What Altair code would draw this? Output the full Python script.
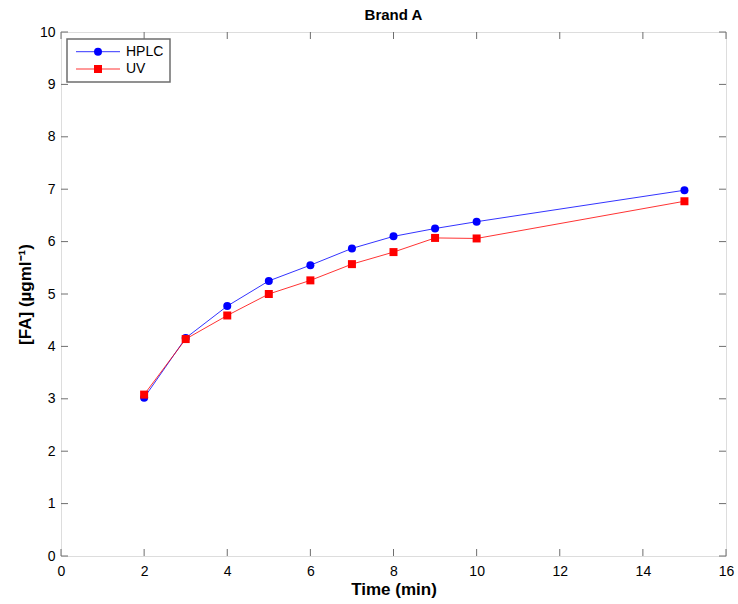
import altair as alt
import pandas as pd

# ---- data ----
time = [2, 3, 4, 5, 6, 7, 8, 9, 10, 15]
hplc = [3.02, 4.16, 4.77, 5.25, 5.55, 5.87, 6.10, 6.25, 6.38, 6.98]
uv = [3.08, 4.14, 4.59, 5.00, 5.26, 5.57, 5.80, 6.07, 6.06, 6.77]
series_names = ["HPLC", "UV"]
series_colors = ["#0000ff", "#ff0000"]
series_shapes = ["circle", "square"]
x_ticks = [0, 2, 4, 6, 8, 10, 12, 14, 16]
y_ticks = [0, 1, 2, 3, 4, 5, 6, 7, 8, 9, 10]

W, H = 665, 524
FONT = "Liberation Sans"
FRAME = "#6e6e6e"
TL = 7  # inner tick length

df = pd.DataFrame({
    "x": time + time,
    "y": hplc + uv,
    "series": [series_names[0]] * len(time) + [series_names[1]] * len(time),
})

xs = alt.Scale(domain=[0, 16], nice=False, zero=False)
ys = alt.Scale(domain=[0, 10], nice=False, zero=False)

xaxis = alt.Axis(title="Time (min)", values=x_ticks, ticks=False, domain=False, grid=False,
                 labelFont=FONT, labelFontSize=14, labelColor="black", labelPadding=8,
                 labelFlush=False, format="d",
                 titleFont=FONT, titleFontSize=17, titleFontWeight="bold", titleColor="black",
                 titlePadding=3)
yaxis = alt.Axis(title="[FA] (µgml⁻¹)", values=y_ticks, ticks=False, domain=False, grid=False,
                 labelFont=FONT, labelFontSize=14, labelColor="black", labelPadding=6,
                 labelFlush=False, format="d",
                 titleFont=FONT, titleFontSize=17, titleFontWeight="bold", titleColor="black",
                 titlePadding=5)

X = alt.X("x:Q", scale=xs, axis=xaxis)
Y = alt.Y("y:Q", scale=ys, axis=yaxis)

color = alt.Color("series:N", scale=alt.Scale(domain=series_names, range=series_colors), legend=None)

base = alt.Chart(df)
lines = base.mark_line(strokeWidth=1, opacity=0.8).encode(x=X, y=Y, color=color)
pts_c = base.transform_filter(alt.datum.series == series_names[0]).mark_point(
    filled=True, opacity=1, size=64, shape="circle").encode(x=X, y=Y, color=color)
pts_s = base.transform_filter(alt.datum.series == series_names[1]).mark_point(
    filled=True, opacity=1, size=64, shape="square").encode(x=X, y=Y, color=color)

# inner ticks on all four sides (MATLAB box style)
tx = alt.Chart(pd.DataFrame({"x": x_ticks}))
ty = alt.Chart(pd.DataFrame({"y": y_ticks}))
tick_b = tx.mark_rule(color=FRAME, strokeWidth=1).encode(x=X, y=alt.value(H), y2=alt.value(H - TL))
tick_t = tx.mark_rule(color=FRAME, strokeWidth=1).encode(x=X, y=alt.value(0), y2=alt.value(TL))
tick_l = ty.mark_rule(color=FRAME, strokeWidth=1).encode(y=Y, x=alt.value(0), x2=alt.value(TL))
tick_r = ty.mark_rule(color=FRAME, strokeWidth=1).encode(y=Y, x=alt.value(W), x2=alt.value(W - TL))

# legend box (top-left, inside)
leg_box = alt.Chart(pd.DataFrame({"k": [0]})).mark_rect(
    fill="white", stroke=FRAME, strokeWidth=1.5).encode(
    x=alt.value(6), x2=alt.value(109), y=alt.value(7), y2=alt.value(50))

legend_layers = [leg_box]
rows = [19.7, 37.0]
for name, col, shp, yy in zip(series_names, series_colors, series_shapes, rows):
    ldf = alt.Chart(pd.DataFrame({"series": [name]}))
    legend_layers.append(ldf.mark_rule(color=col, strokeWidth=1, opacity=0.8).encode(
        x=alt.value(15), x2=alt.value(59), y=alt.value(yy)))
    legend_layers.append(ldf.mark_point(filled=True, opacity=1, color=col, shape=shp,
                                        size=64).encode(
        x=alt.value(37), y=alt.value(yy)))
    legend_layers.append(ldf.mark_text(align="left", baseline="middle", font=FONT,
                                       fontSize=14, color="black").encode(
        x=alt.value(65), y=alt.value(yy), text="series:N"))

chart = alt.layer(
    lines, pts_c, pts_s, tick_b, tick_t, tick_l, tick_r, *legend_layers
).properties(
    width=W, height=H,
    title=alt.TitleParams("Brand A", font=FONT, fontSize=15, fontWeight="bold",
                          color="black", anchor="middle", offset=2),
    autosize=alt.AutoSizeParams(type="none"),
    padding={"left": 61, "top": 32, "right": 12, "bottom": 48},
).configure_view(
    stroke=FRAME, strokeWidth=1.5
).configure(background="white")

chart.save("out.html", embed_options={"renderer": "svg", "actions": False})
